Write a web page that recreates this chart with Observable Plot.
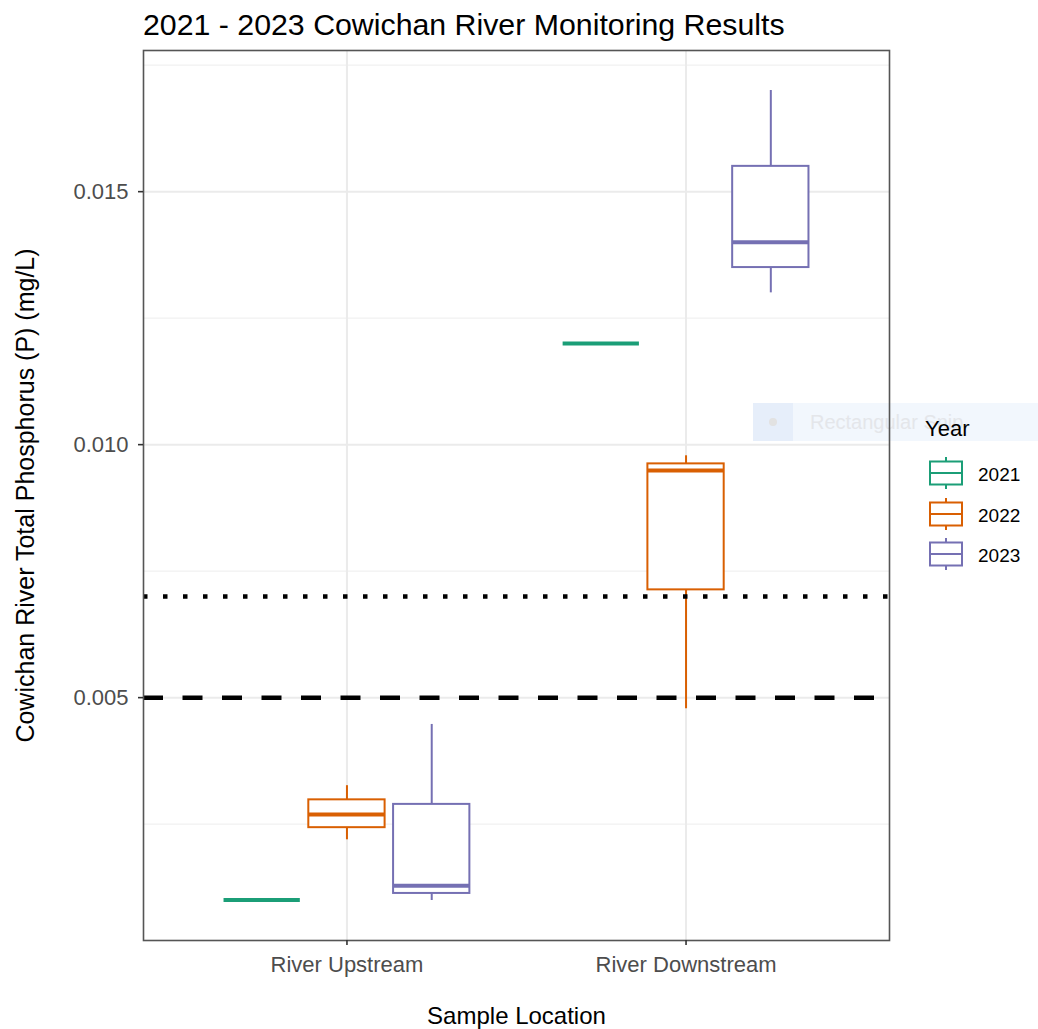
<!DOCTYPE html>
<html>
<head>
<meta charset="utf-8">
<script src="https://cdn.jsdelivr.net/npm/d3@7"></script>
<script src="https://cdn.jsdelivr.net/npm/@observablehq/plot@0.6"></script>
<style>
  body { margin: 0; background: #fff; font-family: "Liberation Sans", Arial, Helvetica, sans-serif; }
  #fig { position: relative; width: 1038px; height: 1029px; overflow: hidden; background: #fff; }
  #title { position: absolute; left: 143px; top: 10px; font-size: 30.3px; line-height: 1; color: #000; white-space: nowrap; z-index: 3; }
  #chart { position: absolute; left: 0; top: 48px; z-index: 2; }
  #snip { position: absolute; left: 753px; top: 403px; width: 285px; height: 38px; z-index: 1;
          background: linear-gradient(to right, #e6eefa 0, #e6eefa 40px, #f2f7fd 40px, #f2f7fd 100%); }
  #snip .dot { position: absolute; left: 16px; top: 15px; width: 8px; height: 8px; border-radius: 50%; background: #e2e2e2; }
  #snip .txt { position: absolute; left: 57px; top: 9px; font-size: 20px; line-height: 1; color: #e4e6ea; white-space: nowrap; }
  #legend { position: absolute; left: 0; top: 0; width: 1038px; height: 1029px; z-index: 4; pointer-events: none; }
  #legend .lt { position: absolute; left: 925px; top: 418px; font-size: 22px; line-height: 1; color: #000; }
  #legend .lab { position: absolute; left: 978px; font-size: 19px; line-height: 1; color: #000; }
  #legend svg { position: absolute; left: 928px; }
</style>
</head>
<body>
<div id="fig">
  <div id="title">2021 - 2023 Cowichan River Monitoring Results</div>
  <div id="snip"><div class="dot"></div><div class="txt">Rectangular Snip</div></div>
  <div id="chart"></div>
  <div id="legend"></div>
</div>
<script>
// Sample locations (x categories) and monitoring years (dodged groups)
const locations = ["River Upstream", "River Downstream"];
const years = ["2021", "2022", "2023"];
const yearColors = ["#1B9E77", "#D95F02", "#7570B3"];

// Box summaries, one per location/year pair (mg/L)
const boxLocation = ["River Upstream", "River Upstream", "River Upstream", "River Downstream", "River Downstream", "River Downstream"];
const boxYear     = ["2021", "2022", "2023", "2021", "2022", "2023"];
const whiskerLow  = [0.0010, 0.00219, 0.00099, 0.0120, 0.00478, 0.0130];
const lowerHinge  = [0.0010, 0.00243, 0.00113, 0.0120, 0.00713, 0.0135];
const medianValue = [0.0010, 0.00269, 0.00128, 0.0120, 0.00949, 0.0140];
const upperHinge  = [0.0010, 0.00298, 0.00289, 0.0120, 0.00962, 0.0155];
const whiskerHigh = [0.0010, 0.00326, 0.00447, 0.0120, 0.00978, 0.0170];

// Guideline levels drawn across the panel
const guidelineDashed = [0.005];
const guidelineDotted = [0.007];

// Axis ticks
const yTicks = [0.005, 0.010, 0.015];
const yMinorTicks = [0.0025, 0.0075, 0.0125, 0.0175];
const xTicks = [1, 2];

const xTitle = "Sample Location";
const yTitle = "Cowichan River Total Phosphorus (P) (mg/L)";

// Dodge: each year shifts a quarter unit around its location
const dodge = 0.25, halfBox = 0.1125;
const rows = boxYear.map((yr, i) => ({
  location: boxLocation[i],
  year: yr,
  pos: locations.indexOf(boxLocation[i]) + 1 + (years.indexOf(yr) - 1) * dodge,
  lo: whiskerLow[i], q1: lowerHinge[i], median: medianValue[i], q3: upperHinge[i], hi: whiskerHigh[i]
}));

const fontFamily = '"Liberation Sans", Arial, Helvetica, sans-serif';

const chart = Plot.plot({
  width: 1038,
  height: 981,
  marginTop: 2,
  marginBottom: 89,
  marginLeft: 143,
  marginRight: 149,
  style: { fontFamily, background: "transparent", overflow: "visible" },
  x: { type: "linear", domain: [0.4, 2.6], axis: null },
  y: { domain: [0.0002, 0.01779], axis: null },
  color: { type: "ordinal", domain: years, range: yearColors },
  marks: [
    Plot.ruleY(yMinorTicks, { stroke: "#f1f1f1", strokeWidth: 1.2 }),
    Plot.ruleY(yTicks, { stroke: "#ebebeb", strokeWidth: 2 }),
    Plot.ruleX(xTicks, { stroke: "#ebebeb", strokeWidth: 2 }),
    // whiskers
    Plot.ruleX(rows.filter(d => d.hi > d.q3), { x: "pos", y1: "q3", y2: "hi", stroke: "year", strokeWidth: 2 }),
    Plot.ruleX(rows.filter(d => d.lo < d.q1), { x: "pos", y1: "lo", y2: "q1", stroke: "year", strokeWidth: 2 }),
    // boxes
    Plot.rect(rows, { x1: d => d.pos - halfBox, x2: d => d.pos + halfBox, y1: "q1", y2: "q3", fill: "white", stroke: "year", strokeWidth: 2 }),
    // medians
    Plot.ruleY(rows, { y: "median", x1: d => d.pos - halfBox, x2: d => d.pos + halfBox, stroke: "year", strokeWidth: 4 }),
    // guideline levels
    Plot.ruleY(guidelineDotted, { stroke: "black", strokeWidth: 4.5, strokeDasharray: "4.5,15.5" }),
    Plot.ruleY(guidelineDashed, { stroke: "black", strokeWidth: 4.5, strokeDasharray: "20,19.5" }),
    Plot.frame({ stroke: "#555", strokeWidth: 1.6 }),
    Plot.axisX(xTicks, { tickFormat: d => locations[d - 1], tickSize: 5, tickPadding: 11, fontSize: 22, fill: "#4d4d4d", stroke: "#333", strokeWidth: 1.6, label: null }),
    Plot.axisY(yTicks, { tickFormat: d3.format(".3f"), tickSize: 5, tickPadding: 10, fontSize: 22, fill: "#4d4d4d", stroke: "#333", strokeWidth: 1.6, label: null }),
    Plot.text([xTitle], { text: d => d, frameAnchor: "bottom", dy: 66, lineAnchor: "top", textAnchor: "middle", fontSize: 24, fill: "black" }),
    Plot.text([yTitle], { text: d => d, frameAnchor: "left", rotate: -90, dx: -127, lineAnchor: "top", textAnchor: "middle", fontSize: 25, fill: "black" })
  ]
});
document.getElementById("chart").appendChild(chart);

// Legend: boxplot keys for each year
const legend = document.getElementById("legend");
const lt = document.createElement("div");
lt.className = "lt";
lt.textContent = "Year";
legend.appendChild(lt);
const rowCenter0 = 473, rowStep = 40.5;
years.forEach((yr, i) => {
  const cy = rowCenter0 + i * rowStep;
  const col = yearColors[i];
  const svg = d3.create("svg").attr("width", 36).attr("height", 32).style("top", (cy - 16) + "px");
  svg.append("line").attr("x1", 18).attr("x2", 18).attr("y1", 0).attr("y2", 32).attr("stroke", col).attr("stroke-width", 2);
  svg.append("rect").attr("x", 2).attr("y", 4.5).attr("width", 32).attr("height", 23).attr("fill", "white").attr("stroke", col).attr("stroke-width", 2);
  svg.append("line").attr("x1", 2).attr("x2", 34).attr("y1", 16).attr("y2", 16).attr("stroke", col).attr("stroke-width", 2);
  legend.appendChild(svg.node());
  const lab = document.createElement("div");
  lab.className = "lab";
  lab.style.top = (cy - 8) + "px";
  lab.textContent = yr;
  legend.appendChild(lab);
});
</script>
</body>
</html>
